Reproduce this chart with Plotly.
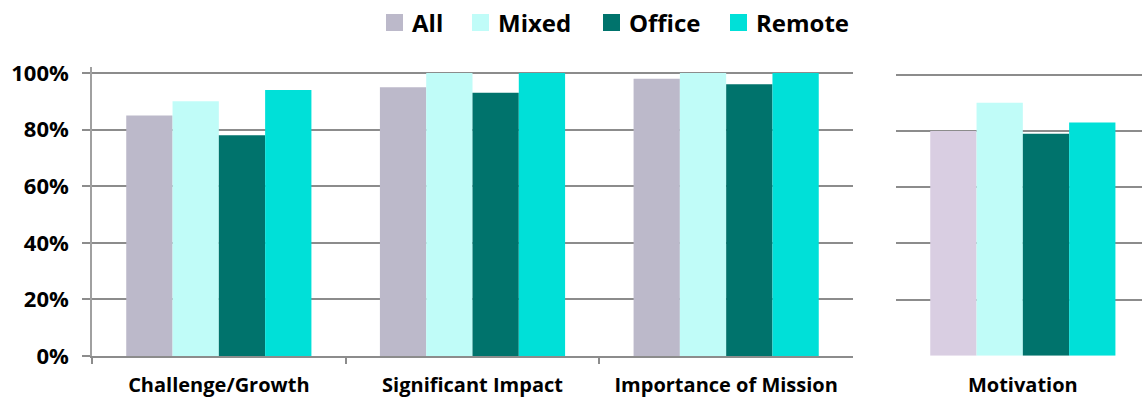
import plotly.graph_objects as go

# Survey shares by work arrangement
categories = ["Challenge/Growth", "Significant Impact", "Importance of Mission"]
side_category = ["Motivation"]
series = ["All", "Mixed", "Office", "Remote"]

all_vals = [0.85, 0.95, 0.98]
mixed_vals = [0.90, 1.00, 1.00]
office_vals = [0.78, 0.93, 0.96]
remote_vals = [0.94, 1.00, 1.00]

motivation_vals = [0.80, 0.90, 0.79, 0.83]

y_ticks = [0, 0.2, 0.4, 0.6, 0.8, 1.0]
y_labels = ["0%", "20%", "40%", "60%", "80%", "100%"]

colors = {"All": "#BCB9CA", "Mixed": "#C0FCF8", "Office": "#00736C", "Remote": "#00E0D8"}
motivation_colors = ["#D9CEE2", "#C0FCF8", "#00736C", "#00E0D8"]

FONT = "Open Sans"
GRID = "#8C8C8C"
W, H = 1142, 398

fig = go.Figure()

left_values = [all_vals, mixed_vals, office_vals, remote_vals]
for name, vals in zip(series, left_values):
    fig.add_trace(go.Bar(
        x=categories, y=vals, name=name, marker_color=colors[name],
        marker_line_width=0, showlegend=False, xaxis="x", yaxis="y",
    ))

for name, val, col in zip(series, motivation_vals, motivation_colors):
    fig.add_trace(go.Bar(
        x=side_category, y=[val], name=name, marker_color=col,
        marker_line_width=0, showlegend=False, xaxis="x2", yaxis="y2",
        offsetgroup=name,
    ))


def px_x(p):
    return p / W


def px_y(p):
    return (H - p) / H


# Legend row across the top: colour key square followed by its label
legend_left = [386, 472, 603, 730]
key_size = 17
key_top = 14
for name, left in zip(series, legend_left):
    fig.add_shape(
        type="rect", xref="paper", yref="paper",
        x0=px_x(left), x1=px_x(left + key_size),
        y0=px_y(key_top + key_size), y1=px_y(key_top),
        fillcolor=colors[name], line_width=0, layer="above",
    )
    fig.add_annotation(
        x=px_x(left + key_size + 7), y=px_y(key_top + key_size / 2 + 0.5),
        xref="paper", yref="paper", xanchor="left", yanchor="middle",
        text=name, showarrow=False,
        font=dict(family=FONT, size=24, color="#000000", weight="bold"),
    )

y_top = 1.02
left_zero, left_full = 356, 73
right_zero, right_full = 355.7, 74.7
left_dom = [px_y(left_zero), px_y(left_zero - (left_zero - left_full) * y_top)]
right_dom = [px_y(right_zero), px_y(right_zero - (right_zero - right_full) * y_top)]

cat_px = (853 - 92) / 3
right_left = 896

fig.update_layout(
    width=W, height=H,
    margin=dict(l=0, r=0, t=0, b=0, autoexpand=False),
    paper_bgcolor="white", plot_bgcolor="white",
    barmode="group", bargap=0.27, bargroupgap=0,
    showlegend=False,
    font=dict(family=FONT, color="#000000"),
    xaxis=dict(
        domain=[px_x(92), px_x(853)], range=[-0.5, 2.5], automargin=False,
        type="category", categoryorder="array", categoryarray=categories,
        showline=True, linecolor=GRID, linewidth=1.5,
        ticks="outside", tickson="boundaries", ticklen=6, tickcolor=GRID, tickwidth=1.5,
        showgrid=False, zeroline=False,
        tickfont=dict(family=FONT, size=20, color="#000000", weight="bold"),
        ticklabelstandoff=10,
    ),
    yaxis=dict(
        domain=left_dom, range=[0, y_top], automargin=False,
        tickvals=y_ticks, ticktext=y_labels,
        showgrid=True, gridcolor=GRID, gridwidth=1.5,
        showline=True, linecolor="#A0A0A0", linewidth=1.5,
        ticks="outside", ticklen=8, tickcolor=GRID, tickwidth=1.5,
        zeroline=False,
        tickfont=dict(family=FONT, size=22, color="#000000", weight="bold"),
        ticklabelstandoff=9,
    ),
    xaxis2=dict(
        domain=[px_x(right_left), 1.0], automargin=False,
        range=[-0.5, -0.5 + (W - right_left) / cat_px],
        type="category", anchor="y2",
        showline=False, ticks="", showgrid=False, zeroline=False,
        tickfont=dict(family=FONT, size=20, color="#000000", weight="bold"),
        ticklabelstandoff=15,
    ),
    yaxis2=dict(
        domain=right_dom, range=[0, y_top], anchor="x2", automargin=False,
        tickvals=y_ticks, showticklabels=False,
        showgrid=True, gridcolor=GRID, gridwidth=1.5,
        showline=False, ticks="", zeroline=False,
    ),
)

fig.write_html("out.html")
